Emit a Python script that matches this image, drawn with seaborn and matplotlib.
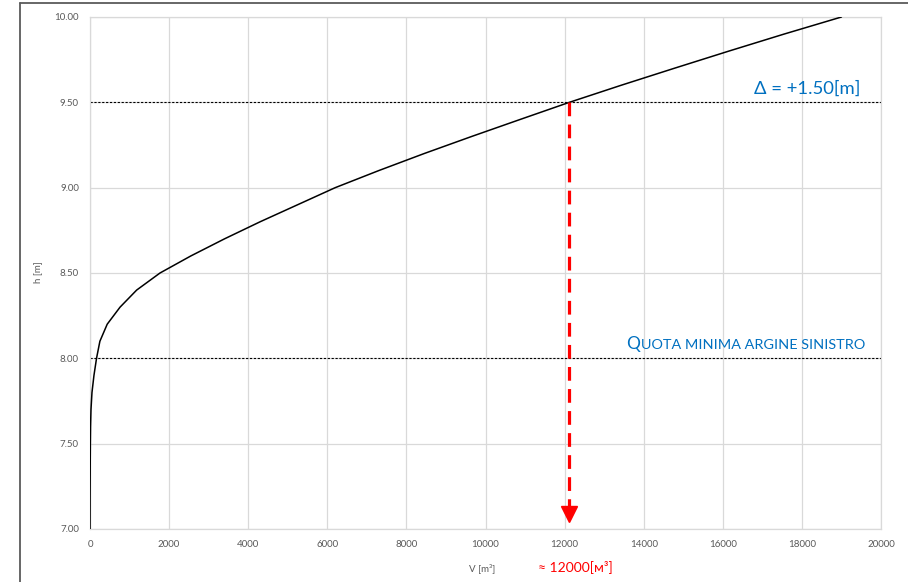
import numpy as np
import pandas as pd
import matplotlib
matplotlib.use("Agg")
import matplotlib.pyplot as plt
from matplotlib.lines import Line2D
import seaborn as sns

# Stage-volume curve of the basin: level h [m] vs stored volume V [m³]
levels = [7.0, 7.1, 7.2, 7.3, 7.4, 7.5, 7.6, 7.7, 7.8, 7.9,
          8.0, 8.1, 8.2, 8.3, 8.4, 8.5, 8.6, 8.7, 8.8, 8.9,
          9.0, 9.1, 9.2, 9.3, 9.4, 9.5, 9.6, 9.7, 9.8, 9.9, 10.0]
volumes = [0, 1, 2, 4, 6, 9, 14, 25, 50, 100,
           165, 250, 435, 760, 1180, 1770, 2550, 3400, 4300, 5250,
           6200, 7300, 8450, 9650, 10880, 12120, 13430, 14780, 16150, 17550, 19000]

h_min_bank = 8.00          # minimum left-bank level
h_target = 9.50            # level raised by +1.50 m
x_ticks = list(range(0, 20001, 2000))
y_ticks = [7.0, 7.5, 8.0, 8.5, 9.0, 9.5, 10.0]

df = pd.DataFrame({"V": volumes, "h": levels})

sns.set_theme(style="white")
plt.rcParams["font.family"] = ["Lato", "DejaVu Sans"]

W, H = 908, 582
fig = plt.figure(figsize=(W / 100, H / 100), dpi=100)
ax = fig.add_axes([90 / W, 1 - 529 / H, (881 - 90) / W, (529 - 17) / H])

grid_c = "#d9d9d9"
text_c = "#595959"
blue = "#0070C0"
red = "#FF0000"

ax.set_xlim(0, 20000)
ax.set_ylim(7.0, 10.0)
ax.set_xticks(x_ticks)
ax.set_yticks(y_ticks)
ax.set_xticklabels([str(v) for v in x_ticks])
ax.set_yticklabels([f"{v:.2f}" for v in y_ticks])
ax.grid(True, color=grid_c, lw=0.9)
ax.set_axisbelow(True)
for s in ax.spines.values():
    s.set_color(grid_c)
    s.set_linewidth(0.9)
ax.tick_params(axis="both", length=0, labelsize=7, labelcolor=text_c)
ax.tick_params(axis="y", pad=8)
ax.tick_params(axis="x", pad=8)

# Reference levels (dotted)
ax.axhline(h_target, color="black", lw=0.8, ls=(0, (2, 1.5)), zorder=2)
ax.axhline(h_min_bank, color="black", lw=0.8, ls=(0, (2, 1.5)), zorder=2)

# Stage-volume curve
sns.lineplot(data=df, x="V", y="h", color="black", lw=1.1, estimator=None,
             sort=False, ax=ax, zorder=3)
ax.set_xlabel("")
ax.set_ylabel("")

# Volume read at the raised level
v_target = float(np.interp(h_target, levels, volumes))
ax.plot([v_target, v_target], [h_target, 7.09], color=red, lw=2.3,
        ls=(0, (4.3, 2.6)), zorder=4, solid_capstyle="butt", dash_capstyle="butt")
ax.plot([v_target], [7.085], marker="v", ms=11.5, color=red, mec=red, zorder=5)

# Annotations
ax.text(19470, 9.549, "Δ = +1.50[m]", color=blue, fontsize=13.3,
        ha="right", va="baseline")
q = ax.text(13550, 8.053, "Q", color=blue, fontsize=12.5, ha="left", va="baseline")
ax.annotate("UOTA MINIMA ARGINE SINISTRO", xy=(1, 0), xycoords=q,
            xytext=(0.6, 0.6), textcoords="offset points",
            color=blue, fontsize=10.4, ha="left", va="bottom")

fig.text(482 / W, 1 - 568 / H, "V [m³]", color=text_c, fontsize=7,
         ha="center", va="center")
fig.text(575 / W, 1 - 567 / H, "≈ 12000[ᴍ³]", color=red, fontsize=10,
         ha="center", va="center")
fig.text(38 / W, 1 - 272 / H, "h [m]", color=text_c, fontsize=7,
         ha="center", va="center", rotation=90)

# Chart frame
fig.add_artist(Line2D([20 / W, 20 / W], [0, 1 - 3 / H], transform=fig.transFigure,
                      color="#5a5a5a", lw=1.3))
fig.add_artist(Line2D([20 / W, 1], [1 - 3 / H, 1 - 3 / H], transform=fig.transFigure,
                      color="#5a5a5a", lw=1.3))

fig.savefig("out.png", dpi=100, facecolor="white")
